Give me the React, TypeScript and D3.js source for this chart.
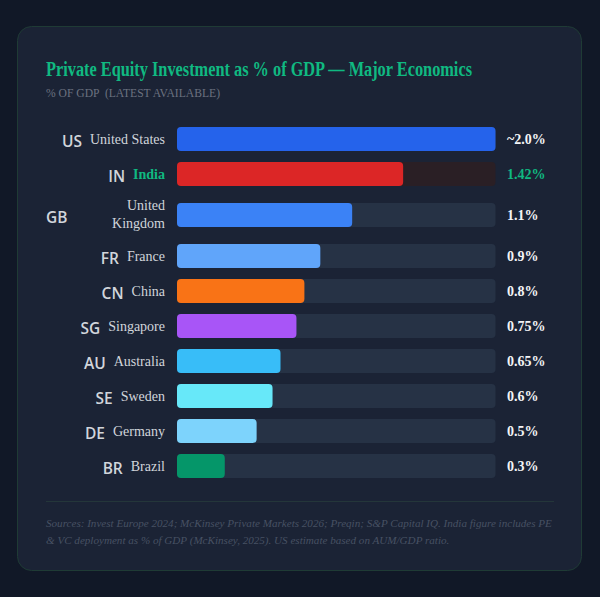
import React, { useEffect, useRef } from 'react';
import * as d3 from 'd3';

// Private equity investment as a share of GDP, by economy
const codes = ['US', 'IN', 'GB', 'FR', 'CN', 'SG', 'AU', 'SE', 'DE', 'BR'];
const countries = ['United States', 'India', 'United Kingdom', 'France', 'China', 'Singapore', 'Australia', 'Sweden', 'Germany', 'Brazil'];
const values = [2.0, 1.42, 1.1, 0.9, 0.8, 0.75, 0.65, 0.6, 0.5, 0.3];
const valueLabels = ['~2.0%', '1.42%', '1.1%', '0.9%', '0.8%', '0.75%', '0.65%', '0.6%', '0.5%', '0.3%'];
const barColors = ['#2563eb', '#dc2626', '#3b82f6', '#60a5fa', '#f97316', '#a855f7', '#38bdf8', '#67e8f9', '#7dd3fc', '#059669'];
const highlight = 'India';

const sourceLines = [
  'Sources: Invest Europe 2024; McKinsey Private Markets 2026; Preqin; S&P Capital IQ. India figure includes PE',
  '& VC deployment as % of GDP (McKinsey, 2025). US estimate based on AUM/GDP ratio.',
];

const W = 600;
const H = 597;

function App() {
  const ref = useRef<SVGSVGElement>(null);

  useEffect(() => {
    document.body.style.margin = '0';
    document.body.style.background = '#111827';

    const svg = d3.select(ref.current);
    svg.selectAll('*').remove();

    // card
    svg.append('rect')
      .attr('x', 17.5).attr('y', 26.5)
      .attr('width', 564).attr('height', 544)
      .attr('rx', 14)
      .attr('fill', '#1b2335')
      .attr('stroke', '#1f3b35')
      .attr('stroke-width', 1);

    // heading uses a condensed serif look
    svg.append('text')
      .attr('x', 46).attr('y', 76)
      .attr('font-family', '"Liberation Serif", serif')
      .attr('font-size', 20)
      .attr('font-weight', 700)
      .attr('fill', '#10b981')
      .attr('textLength', 426)
      .attr('lengthAdjust', 'spacingAndGlyphs')
      .text('Private Equity Investment as % of GDP — Major Economics');

    svg.append('text')
      .attr('x', 46).attr('y', 97)
      .attr('font-family', '"Liberation Serif", serif')
      .attr('font-size', 12)
      .attr('fill', '#6b7280')
      .attr('xml:space', 'preserve')
      .attr('textLength', 174)
      .attr('lengthAdjust', 'spacingAndGlyphs')
      .text('% OF GDP  (LATEST AVAILABLE)');

    const x = d3.scaleLinear().domain([0, 2]).range([177, 495.5]);
    const barH = 24;
    const gap = 11;
    const nameRight = 165;
    const nameMax = 92;

    // measure names to see which ones wrap onto two lines
    const probe = svg.append('text')
      .attr('font-family', '"Liberation Serif", serif')
      .attr('font-size', 14);
    const nameWidths = countries.map(c => {
      probe.text(c);
      return (probe.node() as SVGTextElement).getComputedTextLength();
    });
    probe.remove();

    let y = 127;
    const rows = countries.map((c, i) => {
      const wrapped = nameWidths[i] > nameMax;
      const rowH = wrapped ? 36 : barH;
      const top = y;
      y += rowH + gap;
      return { c, i, wrapped, cy: top + rowH / 2 };
    });

    const g = svg.append('g');
    rows.forEach(({ c, i, wrapped, cy }) => {
      const isHi = c === highlight;
      // track
      g.append('rect')
        .attr('x', x(0)).attr('y', cy - barH / 2)
        .attr('width', x(2) - x(0)).attr('height', barH)
        .attr('rx', 4)
        .attr('fill', isHi ? '#2a1f25' : '#263245');
      // value bar
      g.append('rect')
        .attr('x', x(0)).attr('y', cy - barH / 2)
        .attr('width', x(values[i]) - x(0)).attr('height', barH)
        .attr('rx', 4)
        .attr('fill', barColors[i]);

      const name = g.append('text')
        .attr('text-anchor', 'end')
        .attr('font-family', '"Liberation Serif", serif')
        .attr('font-size', 14)
        .attr('font-weight', isHi ? 700 : 400)
        .attr('fill', isHi ? '#10b981' : '#d1d5db');
      let codeX: number;
      let codeAnchor: string;
      if (wrapped) {
        const words = c.split(' ');
        name.append('tspan').attr('x', nameRight).attr('y', cy - 5).text(words.slice(0, -1).join(' '));
        name.append('tspan').attr('x', nameRight).attr('y', cy + 13).text(words[words.length - 1]);
        codeX = 46;
        codeAnchor = 'start';
      } else {
        name.attr('x', nameRight).attr('y', cy + 5).text(c);
        const nw = (name.node() as SVGTextElement).getComputedTextLength();
        codeX = nameRight - nw - 8;
        codeAnchor = 'end';
      }
      g.append('text')
        .attr('x', codeX).attr('y', cy + 7.5)
        .attr('text-anchor', codeAnchor)
        .attr('font-family', '"Open Sans", sans-serif')
        .attr('font-size', 15.5)
        .attr('font-weight', 600)
        .attr('fill', '#d1d5db')
        .text(codes[i]);

      g.append('text')
        .attr('x', 507).attr('y', cy + 5)
        .attr('font-family', '"Liberation Serif", serif')
        .attr('font-size', 14)
        .attr('font-weight', 700)
        .attr('fill', isHi ? '#10b981' : '#f3f4f6')
        .text(valueLabels[i]);
    });

    // footer
    svg.append('line')
      .attr('x1', 46).attr('x2', 554)
      .attr('y1', 501.5).attr('y2', 501.5)
      .attr('stroke', '#24363a')
      .attr('stroke-width', 1);

    svg.append('g')
      .selectAll('text')
      .data(sourceLines)
      .join('text')
      .attr('x', 46)
      .attr('y', (_, i) => 527 + i * 17)
      .attr('font-family', '"Liberation Serif", serif')
      .attr('font-size', 11.1)
      .attr('font-style', 'italic')
      .attr('fill', '#475163')
      .text(d => d);
  }, []);

  return <svg ref={ref} width={W} height={H} style={{ display: 'block', background: '#111827' }} />;
}

export default App;
